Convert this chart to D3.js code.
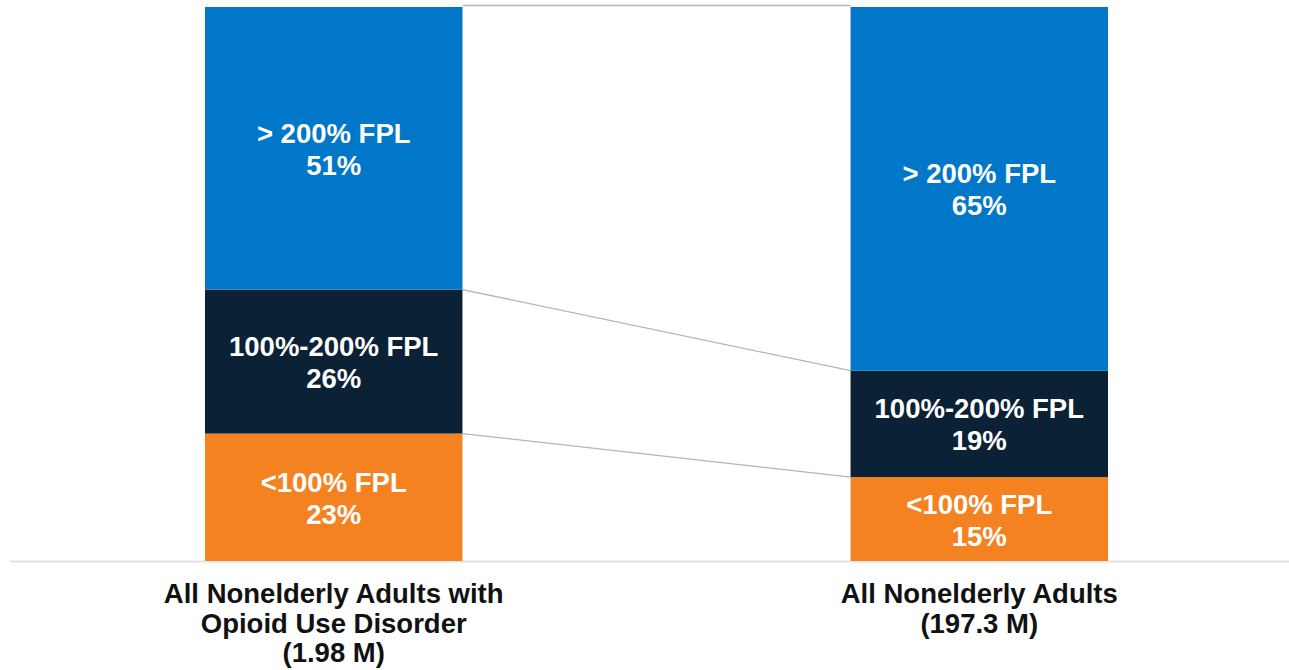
<!DOCTYPE html>
<html><head><meta charset="utf-8">
<script src="https://cdn.jsdelivr.net/npm/d3@7"></script>
<style>body{margin:0;background:#fff;}svg{display:block;font-family:"Liberation Sans",Arial,sans-serif;}</style>
</head><body>
<svg id="c" width="1289" height="670"></svg>
<script>
const categories = ["All Nonelderly Adults with Opioid Use Disorder (1.98 M)", "All Nonelderly Adults (197.3 M)"];
const categoryLines = [["All Nonelderly Adults with", "Opioid Use Disorder", "(1.98 M)"], ["All Nonelderly Adults", "(197.3 M)"]];
const seriesNames = ["<100% FPL", "100%-200% FPL", "> 200% FPL"];
const below100 = [23, 15];
const between100200 = [26, 19];
const above200 = [51, 65];
const seriesColors = ["#F58220", "#0B2135", "#0077C8"];

const svg = d3.select("#c");
const rows = categories.map((c, i) => ({cat: c, s0: below100[i], s1: between100200[i], s2: above200[i]}));
const keys = ["s0", "s1", "s2"];
const stacked = d3.stack().keys(keys).offset(d3.stackOffsetExpand)(rows);

const x = d3.scaleBand().domain(categories).range([205, 1108]).paddingInner(0.6012).paddingOuter(0);
const y = d3.scaleLinear().domain([0, 1]).range([561, 7]);

// baseline
svg.append("line").attr("x1", 10).attr("x2", 1289).attr("y1", 561.5).attr("y2", 561.5)
  .attr("stroke", "#e3e3e3").attr("stroke-width", 2);

// connector lines
const c0 = categories[0], c1 = categories[1];
const levels = [stacked[0].map(d => d[1]), stacked[1].map(d => d[1]), stacked[2].map(d => d[1])];
levels.forEach((lv, k) => {
  const yOff = k === 2 ? -1.5 : 0;
  svg.append("line")
    .attr("x1", x(c0) + x.bandwidth()).attr("y1", y(lv[0]) + yOff)
    .attr("x2", x(c1)).attr("y2", y(lv[1]) + yOff)
    .attr("stroke", "#b5b5b5").attr("stroke-width", 1.3);
});

// bars
stacked.forEach((layer, k) => {
  svg.append("g").selectAll("rect").data(layer).join("rect")
    .attr("x", d => x(d.data.cat))
    .attr("y", d => y(d[1]))
    .attr("width", x.bandwidth())
    .attr("height", d => y(d[0]) - y(d[1]))
    .attr("fill", seriesColors[k]);
});

// segment labels
const vals = [below100, between100200, above200];
stacked.forEach((layer, k) => {
  layer.forEach((d, i) => {
    const cx = x(d.data.cat) + x.bandwidth() / 2;
    const cy = (y(d[0]) + y(d[1])) / 2;
    const t = svg.append("text").attr("x", cx).attr("text-anchor", "middle")
      .attr("fill", "#fff").attr("font-weight", "bold").attr("font-size", 27.5);
    t.append("tspan").attr("x", cx).attr("y", cy - 5.5).text(seriesNames[k]);
    t.append("tspan").attr("x", cx).attr("y", cy + 26.5).text(vals[k][i] + "%");
  });
});

// category labels
categories.forEach((c, i) => {
  const cx = x(c) + x.bandwidth() / 2;
  const t = svg.append("text").attr("text-anchor", "middle").attr("fill", "#111")
    .attr("font-weight", "bold").attr("font-size", 27.5);
  categoryLines[i].forEach((ln, j) => {
    t.append("tspan").attr("x", cx).attr("y", 603 + j * 29.5).text(ln);
  });
});
</script>
</body></html>
